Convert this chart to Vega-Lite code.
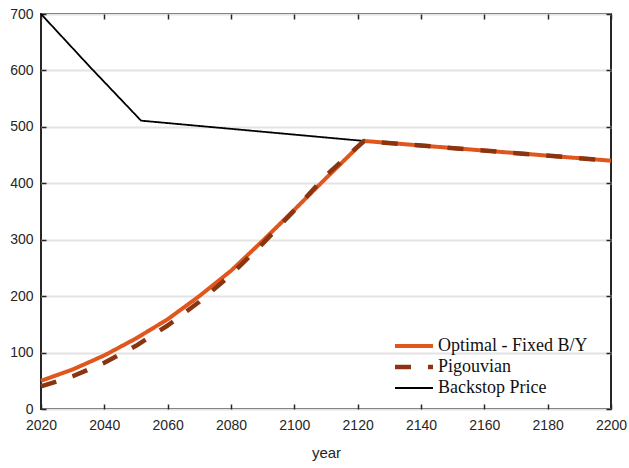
{
  "$schema": "https://vega.github.io/schema/vega-lite/v6.json",
  "width": 570,
  "height": 395,
  "autosize": {"type": "none"},
  "padding": {"left": 41, "top": 14, "right": 18, "bottom": 59},
  "background": "white",
  "config": {
    "view": {"stroke": "#262626", "strokeWidth": 2},
    "axis": {
      "labelFont": "Liberation Sans",
      "labelFontSize": 14,
      "labelColor": "#262626",
      "titleFont": "Liberation Sans",
      "titleFontSize": 15,
      "titleFontWeight": "normal",
      "titleColor": "#262626",
      "domain": false,
      "tickColor": "#262626",
      "tickWidth": 1.5,
      "tickSize": -5,
      "gridColor": "#e3e3e3",
      "gridWidth": 2,
      "labelFlush": false
    },
    "legend": {
      "labelFont": "Liberation Serif",
      "labelFontSize": 18,
      "labelColor": "#111111"
    }
  },
  "data": {
    "values": [
      {"year": 2020, "value": 700, "series": "Backstop Price"},
      {"year": 2035.5, "value": 606, "series": "Backstop Price"},
      {"year": 2051.6, "value": 511, "series": "Backstop Price"},
      {"year": 2122, "value": 475, "series": "Backstop Price"},
      {"year": 2200, "value": 440, "series": "Backstop Price"},
      {"year": 2020, "value": 50, "series": "Optimal - Fixed B/Y"},
      {"year": 2030, "value": 70, "series": "Optimal - Fixed B/Y"},
      {"year": 2040, "value": 95, "series": "Optimal - Fixed B/Y"},
      {"year": 2050, "value": 125, "series": "Optimal - Fixed B/Y"},
      {"year": 2060, "value": 159, "series": "Optimal - Fixed B/Y"},
      {"year": 2070, "value": 200, "series": "Optimal - Fixed B/Y"},
      {"year": 2080, "value": 245, "series": "Optimal - Fixed B/Y"},
      {"year": 2090, "value": 298, "series": "Optimal - Fixed B/Y"},
      {"year": 2100, "value": 353, "series": "Optimal - Fixed B/Y"},
      {"year": 2110, "value": 409, "series": "Optimal - Fixed B/Y"},
      {"year": 2122, "value": 475, "series": "Optimal - Fixed B/Y"},
      {"year": 2200, "value": 440, "series": "Optimal - Fixed B/Y"},
      {"year": 2020, "value": 40, "series": "Pigouvian"},
      {"year": 2030, "value": 58, "series": "Pigouvian"},
      {"year": 2040, "value": 82, "series": "Pigouvian"},
      {"year": 2050, "value": 112, "series": "Pigouvian"},
      {"year": 2060, "value": 148, "series": "Pigouvian"},
      {"year": 2070, "value": 190, "series": "Pigouvian"},
      {"year": 2080, "value": 238, "series": "Pigouvian"},
      {"year": 2090, "value": 293, "series": "Pigouvian"},
      {"year": 2100, "value": 352, "series": "Pigouvian"},
      {"year": 2110, "value": 414, "series": "Pigouvian"},
      {"year": 2122, "value": 475, "series": "Pigouvian"},
      {"year": 2200, "value": 440, "series": "Pigouvian"}
    ]
  },
  "resolve": {"axis": {"x": "independent", "y": "independent"}},
  "layer": [
    {
      "mark": {"type": "line", "strokeCap": "butt", "strokeJoin": "round"},
      "encoding": {
        "x": {
          "field": "year", "type": "quantitative",
          "scale": {"domain": [2020, 2200], "nice": false, "zero": false},
          "axis": {"values": [2020, 2040, 2060, 2080, 2100, 2120, 2140, 2160, 2180, 2200], "format": "d", "title": "year", "grid": false, "labelPadding": 14, "titlePadding": 13}
        },
        "y": {
          "field": "value", "type": "quantitative",
          "scale": {"domain": [0, 700], "nice": false},
          "axis": {"values": [0, 100, 200, 300, 400, 500, 600, 700], "title": null, "grid": true, "labelPadding": 13}
        },
        "color": {
          "field": "series", "type": "nominal",
          "scale": {"domain": ["Optimal - Fixed B/Y", "Pigouvian", "Backstop Price"], "range": ["#E0561C", "#8A3510", "#000000"]},
          "legend": {"title": null, "orient": "none", "legendX": 364, "legendY": 323, "symbolType": "M-3.8,0H3.8", "symbolSize": 100, "rowPadding": 3, "labelOffset": 15}
        },
        "strokeDash": {
          "field": "series", "type": "nominal",
          "scale": {"domain": ["Optimal - Fixed B/Y", "Pigouvian", "Backstop Price"], "range": [[1, 0], [16, 17], [1, 0]]}
        },
        "strokeWidth": {
          "field": "series", "type": "nominal",
          "scale": {"type": "ordinal", "domain": ["Optimal - Fixed B/Y", "Pigouvian", "Backstop Price"], "range": [4, 4.5, 1.8]}
        },
        "order": {"field": "year", "type": "quantitative"}
      }
    },
    {
      "mark": {"type": "line", "opacity": 0},
      "encoding": {
        "x": {
          "field": "year", "type": "quantitative",
          "axis": {"orient": "top", "values": [2020, 2040, 2060, 2080, 2100, 2120, 2140, 2160, 2180, 2200], "labels": false, "title": null, "grid": false}
        },
        "y": {
          "field": "value", "type": "quantitative",
          "axis": {"orient": "right", "values": [0, 100, 200, 300, 400, 500, 600, 700], "labels": false, "title": null, "grid": false}
        },
        "detail": {"field": "series"}
      }
    }
  ]
}
